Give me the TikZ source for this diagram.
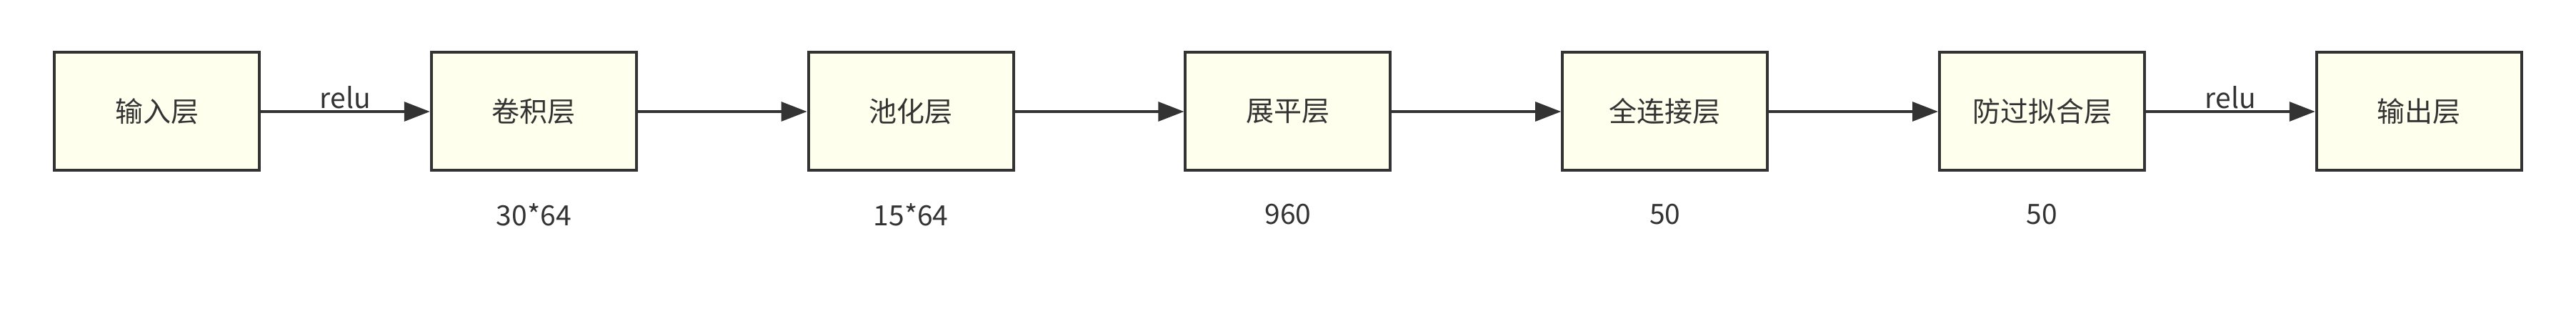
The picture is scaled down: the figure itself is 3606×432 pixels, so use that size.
\documentclass[tikz,border=0pt]{standalone}
\usepackage{fontspec}
\setmainfont{Noto Sans CJK SC}
\usetikzlibrary{arrows.meta}
\definecolor{boxfill}{HTML}{FFFFEE}
\definecolor{ink}{HTML}{333333}
\tikzset{
  layer/.style={draw=ink, fill=boxfill, line width=2pt, minimum width=143.5pt, minimum height=82.5pt, inner sep=0pt, text=ink, font=\fontsize{19.5pt}{22pt}\selectfont},
  dimlabel/.style={text=ink, font=\fontsize{19.5pt}{22pt}\selectfont, inner sep=0pt},
  conn/.style={draw=ink, line width=1.6pt, -{Triangle[length=18pt,width=13.5pt]}},
  rlabel/.style={text=ink, font=\fontsize{19.5pt}{22pt}\selectfont, inner sep=1pt, above}
}
\begin{document}
\begin{tikzpicture}[x=0.5pt,y=0.5pt]
\useasboundingbox (0,0) rectangle (3606,-432);
\node[layer] (n1) at (219.5,-156) {输入层};
\node[layer] (n2) at (747.3,-156) {卷积层};
\node[layer] (n3) at (1275.1,-156) {池化层};
\node[layer] (n4) at (1802.9,-156) {展平层};
\node[layer] (n5) at (2330.7,-156) {全连接层};
\node[layer] (n6) at (2858.5,-156) {防过拟合层};
\node[layer] (n7) at (3386.3,-156) {输出层};
\draw[conn] (n1) -- node[rlabel] {relu} (n2);
\draw[conn] (n2) -- (n3);
\draw[conn] (n3) -- (n4);
\draw[conn] (n4) -- (n5);
\draw[conn] (n5) -- (n6);
\draw[conn] (n6) -- node[rlabel] {relu} (n7);
\node[dimlabel] (d2) at (747.3,-300) {30*64};
\node[dimlabel] (d3) at (1275.1,-300) {15*64};
\node[dimlabel] (d4) at (1802.9,-300) {960};
\node[dimlabel] (d5) at (2330.7,-300) {50};
\node[dimlabel] (d6) at (2858.5,-300) {50};
\end{tikzpicture}
\end{document}
